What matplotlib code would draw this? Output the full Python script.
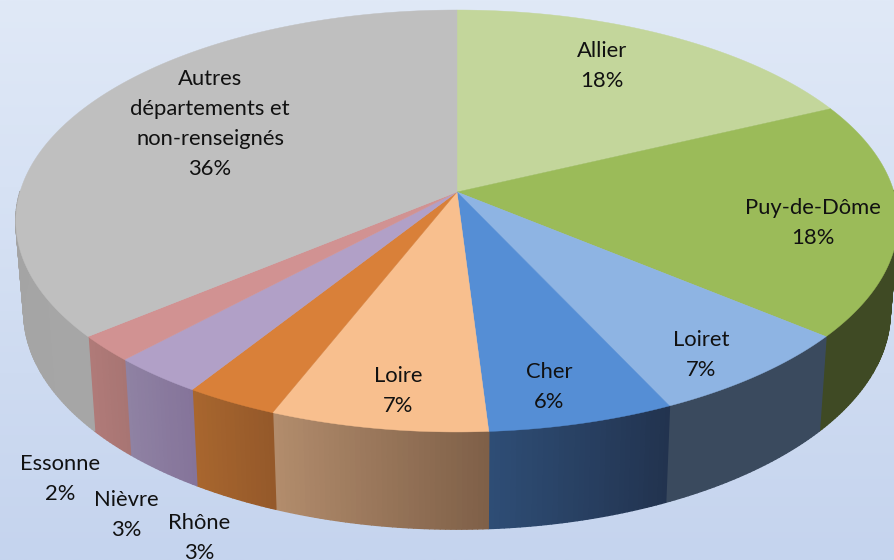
import numpy as np
import matplotlib
matplotlib.use("Agg")
import matplotlib.pyplot as plt
from matplotlib.collections import PolyCollection
from matplotlib.colors import to_rgb

plt.rcParams["font.family"] = ["Lato", "DejaVu Sans"]

NAMES = ["Allier", "Puy-de-Dôme", "Loiret", "Cher", "Loire", "Rhône", "Nièvre",
         "Essonne", "Autres\ndépartements et\nnon-renseignés"]
VALUES = [18, 18, 7, 6, 7, 3, 3, 2, 36]
TOP_COLORS = ["#C3D69B", "#9BBB59", "#8EB4E3", "#558ED5", "#F8BF8E", "#D98039",
              "#B1A0C7", "#D19292", "#BFBFBF"]
# side colours at the clockwise start and end of each slice
SIDE_START = ["#3F4A24", "#3F4A24", "#3A4A5E", "#22334F", "#7F6048", "#95592A",
              "#85749A", "#A87573", "#A6A6A6"]
SIDE_END = ["#3F4A24", "#3F4A24", "#3A4A5E", "#2E4D75", "#B28C6C", "#A8662E",
            "#8F82A3", "#B07A78", "#A0A0A0"]

# label centres, in pixels
LABEL_POS = [(602, 66), (813, 223), (701, 355), (549, 387), (398, 391),
             (199, 538), (126, 515), (60, 479), (210, 124)]

# projection of the disc, in pixels
CX, CY = 457, 192
A, B, K = 437, 207, 0.1374
BOTTOM_X, BOTTOM_Y, DROP = 0.982, 1.03, 90


def project(frac):
    """Top face point for a fraction of the turn, clockwise from 12 o'clock."""
    t = 2 * np.pi * np.asarray(frac)
    X, Y = np.sin(t), np.cos(t)
    w = 1 + K * Y
    return A * X / w, -B * Y / w


def top_xy(frac):
    x, y = project(frac)
    return CX + x, CY + y


def bottom_xy(frac):
    x, y = project(frac)
    return CX + BOTTOM_X * x, CY + BOTTOM_Y * y + DROP


fig = plt.figure(figsize=(8.94, 5.6), dpi=100)
ax = fig.add_axes([0, 0, 1, 1])

# background gradient
ramp = np.linspace(0, 1, 256)[:, None]
c0, c1 = np.array(to_rgb("#E0E9F7")), np.array(to_rgb("#C5D4EE"))
ax.imshow((c0 + (c1 - c0) * ramp)[:, None, :].reshape(256, 1, 3),
          extent=(0, 894, 560, 0), aspect="auto", zorder=0)

edges = np.cumsum([0] + VALUES) / sum(VALUES)

# sides first, then top faces over them
for i in range(len(VALUES)):
    fr = np.linspace(edges[i], edges[i + 1], max(VALUES[i] * 6, 8))
    tx, ty = top_xy(fr)
    bx, by = bottom_xy(fr)
    quads, cols = [], []
    c_a, c_b = np.array(to_rgb(SIDE_START[i])), np.array(to_rgb(SIDE_END[i]))
    for j in range(len(fr) - 1):
        if np.cos(2 * np.pi * fr[j]) > 0 and np.cos(2 * np.pi * fr[j + 1]) > 0:
            continue  # back of the disc, hidden
        quads.append([(tx[j], ty[j]), (tx[j + 1], ty[j + 1]),
                      (bx[j + 1], by[j + 1]), (bx[j], by[j])])
        cols.append(c_a + (c_b - c_a) * j / (len(fr) - 2))
    if quads:
        ax.add_collection(PolyCollection(quads, facecolors=cols, edgecolors=cols,
                                         linewidths=1.0, zorder=2))

for i in range(len(VALUES)):
    fr = np.linspace(edges[i], edges[i + 1], max(VALUES[i] * 6, 8))
    tx, ty = top_xy(fr)
    ax.fill(np.r_[CX, tx], np.r_[CY, ty], color=TOP_COLORS[i], lw=0.3, zorder=3)

for name, val, (lx, ly) in zip(NAMES, VALUES, LABEL_POS):
    ax.text(lx, ly, "%s\n%d%%" % (name, val), ha="center", va="center",
            fontsize=15.8, linespacing=1.62, color="#111111", zorder=4)

ax.set_xlim(0, 894)
ax.set_ylim(560, 0)
ax.axis("off")
fig.savefig("out.png", dpi=100)
